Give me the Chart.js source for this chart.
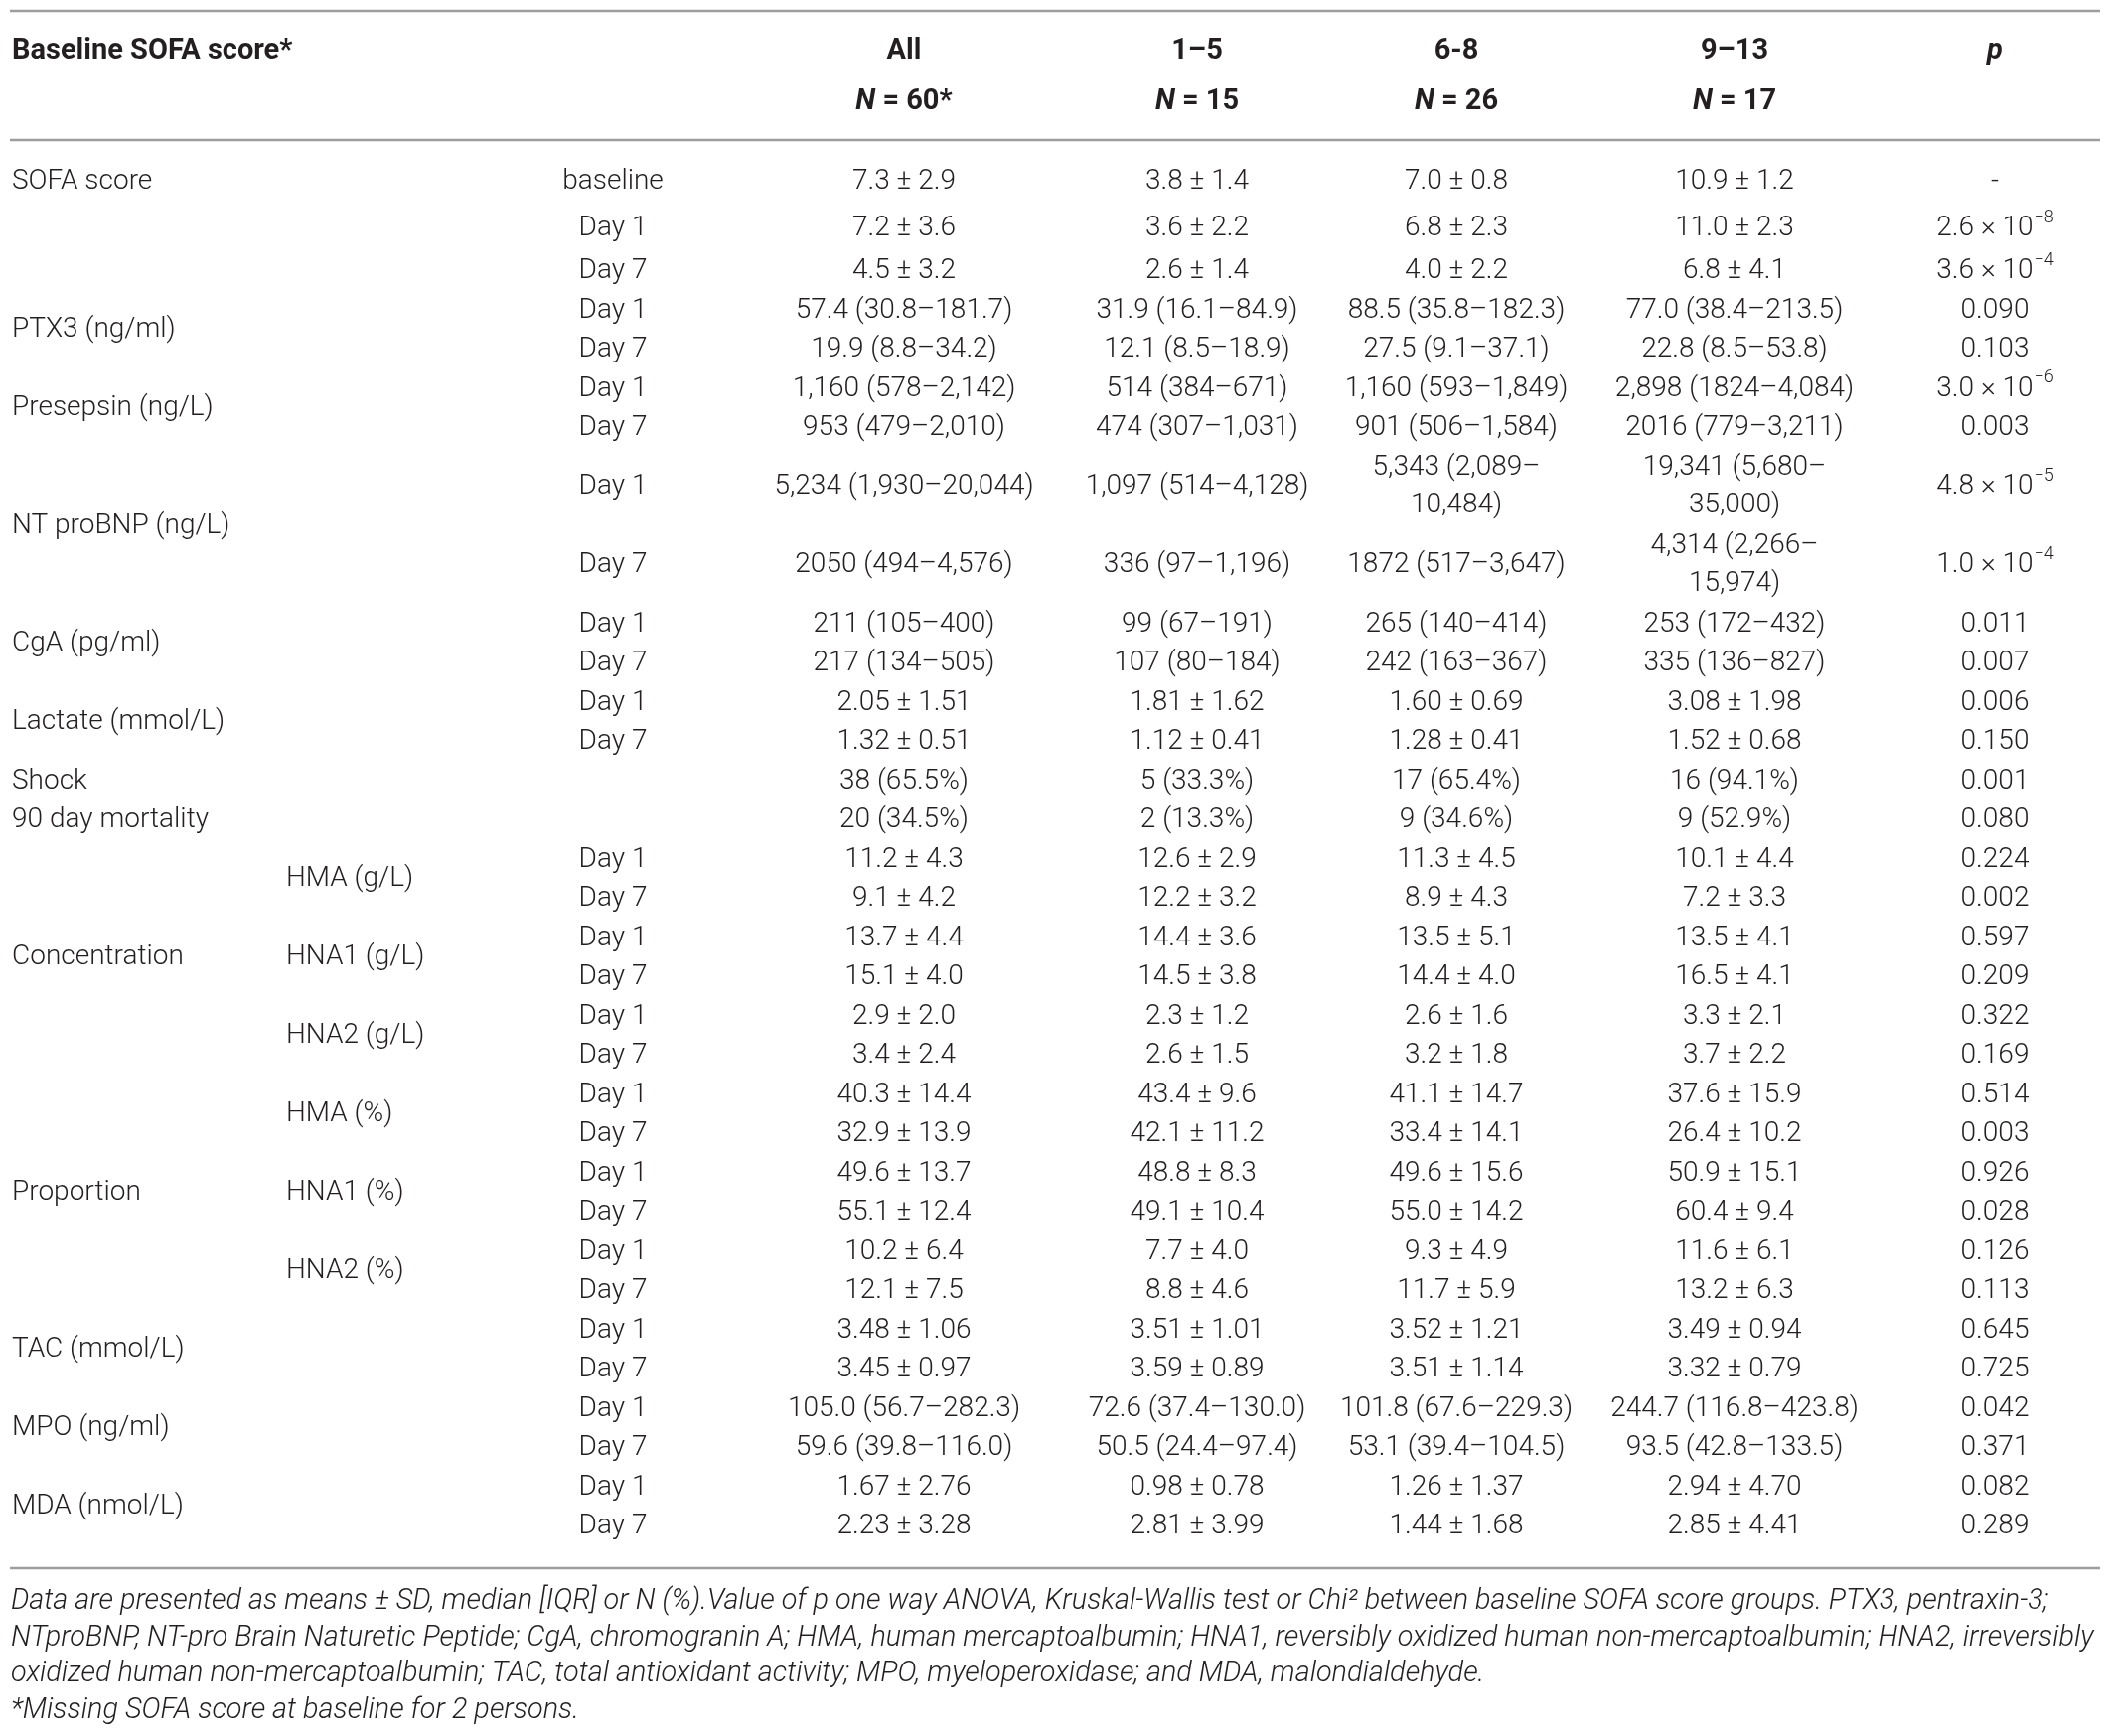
<!DOCTYPE html>
<html>
<head>
<meta charset="utf-8">
<script src="https://cdn.jsdelivr.net/npm/chart.js@4.4.1/dist/chart.umd.min.js"></script>
<style>
  html, body { margin: 0; padding: 0; background: #fff; }
  #wrap { width: 2128px; height: 1748px; }
</style>
</head>
<body>
<div id="wrap"><canvas id="table"></canvas></div>
<script>
// ---- table content ----
const headTop = ["All", "1–5", "6-8", "9–13"];
const headN = ["60*", "15", "26", "17"];

const groups = ["SOFA score", "", "PTX3 (ng/ml)", "Presepsin (ng/L)", "NT proBNP (ng/L)",
  "CgA (pg/ml)", "Lactate (mmol/L)", "Shock", "90 day mortality", "Concentration",
  "Proportion", "TAC (mmol/L)", "MPO (ng/ml)", "MDA (nmol/L)"];
const groupRows = [1, 2, 2, 2, 2, 2, 2, 1, 1, 6, 6, 2, 2, 2];

const subLabels = ["HMA (g/L)", "HNA1 (g/L)", "HNA2 (g/L)", "HMA (%)", "HNA1 (%)", "HNA2 (%)"];
const subFirstRow = 15;

const dayLabels = ["baseline", "Day 1", "Day 7", "Day 1", "Day 7", "Day 1", "Day 7",
  "Day 1", "Day 7", "Day 1", "Day 7", "Day 1", "Day 7", "", "",
  "Day 1", "Day 7", "Day 1", "Day 7", "Day 1", "Day 7", "Day 1", "Day 7",
  "Day 1", "Day 7", "Day 1", "Day 7", "Day 1", "Day 7", "Day 1", "Day 7", "Day 1", "Day 7"];

const valAll = ["7.3 ± 2.9", "7.2 ± 3.6", "4.5 ± 3.2",
  "57.4 (30.8–181.7)", "19.9 (8.8–34.2)",
  "1,160 (578–2,142)", "953 (479–2,010)",
  "5,234 (1,930–20,044)", "2050 (494–4,576)",
  "211 (105–400)", "217 (134–505)",
  "2.05 ± 1.51", "1.32 ± 0.51",
  "38 (65.5%)", "20 (34.5%)",
  "11.2 ± 4.3", "9.1 ± 4.2", "13.7 ± 4.4", "15.1 ± 4.0", "2.9 ± 2.0", "3.4 ± 2.4",
  "40.3 ± 14.4", "32.9 ± 13.9", "49.6 ± 13.7", "55.1 ± 12.4", "10.2 ± 6.4", "12.1 ± 7.5",
  "3.48 ± 1.06", "3.45 ± 0.97",
  "105.0 (56.7–282.3)", "59.6 (39.8–116.0)",
  "1.67 ± 2.76", "2.23 ± 3.28"];

const val1to5 = ["3.8 ± 1.4", "3.6 ± 2.2", "2.6 ± 1.4",
  "31.9 (16.1–84.9)", "12.1 (8.5–18.9)",
  "514 (384–671)", "474 (307–1,031)",
  "1,097 (514–4,128)", "336 (97–1,196)",
  "99 (67–191)", "107 (80–184)",
  "1.81 ± 1.62", "1.12 ± 0.41",
  "5 (33.3%)", "2 (13.3%)",
  "12.6 ± 2.9", "12.2 ± 3.2", "14.4 ± 3.6", "14.5 ± 3.8", "2.3 ± 1.2", "2.6 ± 1.5",
  "43.4 ± 9.6", "42.1 ± 11.2", "48.8 ± 8.3", "49.1 ± 10.4", "7.7 ± 4.0", "8.8 ± 4.6",
  "3.51 ± 1.01", "3.59 ± 0.89",
  "72.6 (37.4–130.0)", "50.5 (24.4–97.4)",
  "0.98 ± 0.78", "2.81 ± 3.99"];

const val6to8 = ["7.0 ± 0.8", "6.8 ± 2.3", "4.0 ± 2.2",
  "88.5 (35.8–182.3)", "27.5 (9.1–37.1)",
  "1,160 (593–1,849)", "901 (506–1,584)",
  "5,343 (2,089–\n10,484)", "1872 (517–3,647)",
  "265 (140–414)", "242 (163–367)",
  "1.60 ± 0.69", "1.28 ± 0.41",
  "17 (65.4%)", "9 (34.6%)",
  "11.3 ± 4.5", "8.9 ± 4.3", "13.5 ± 5.1", "14.4 ± 4.0", "2.6 ± 1.6", "3.2 ± 1.8",
  "41.1 ± 14.7", "33.4 ± 14.1", "49.6 ± 15.6", "55.0 ± 14.2", "9.3 ± 4.9", "11.7 ± 5.9",
  "3.52 ± 1.21", "3.51 ± 1.14",
  "101.8 (67.6–229.3)", "53.1 (39.4–104.5)",
  "1.26 ± 1.37", "1.44 ± 1.68"];

const val9to13 = ["10.9 ± 1.2", "11.0 ± 2.3", "6.8 ± 4.1",
  "77.0 (38.4–213.5)", "22.8 (8.5–53.8)",
  "2,898 (1824–4,084)", "2016 (779–3,211)",
  "19,341 (5,680–\n35,000)", "4,314 (2,266–\n15,974)",
  "253 (172–432)", "335 (136–827)",
  "3.08 ± 1.98", "1.52 ± 0.68",
  "16 (94.1%)", "9 (52.9%)",
  "10.1 ± 4.4", "7.2 ± 3.3", "13.5 ± 4.1", "16.5 ± 4.1", "3.3 ± 2.1", "3.7 ± 2.2",
  "37.6 ± 15.9", "26.4 ± 10.2", "50.9 ± 15.1", "60.4 ± 9.4", "11.6 ± 6.1", "13.2 ± 6.3",
  "3.49 ± 0.94", "3.32 ± 0.79",
  "244.7 (116.8–423.8)", "93.5 (42.8–133.5)",
  "2.94 ± 4.70", "2.85 ± 4.41"];

const pValues = ["-", "2.6 × 10^−8", "3.6 × 10^−4",
  "0.090", "0.103", "3.0 × 10^−6", "0.003", "4.8 × 10^−5", "1.0 × 10^−4",
  "0.011", "0.007", "0.006", "0.150", "0.001", "0.080",
  "0.224", "0.002", "0.597", "0.209", "0.322", "0.169",
  "0.514", "0.003", "0.926", "0.028", "0.126", "0.113",
  "0.645", "0.725", "0.042", "0.371", "0.082", "0.289"];

const footnotes = [
  "Data are presented as means ± SD, median [IQR] or N (%).Value of p one way ANOVA, Kruskal-Wallis test or Chi² between baseline SOFA score groups. PTX3, pentraxin-3;",
  "NTproBNP, NT-pro Brain Naturetic Peptide; CgA, chromogranin A; HMA, human mercaptoalbumin; HNA1, reversibly oxidized human non-mercaptoalbumin; HNA2, irreversibly",
  "oxidized human non-mercaptoalbumin; TAC, total antioxidant activity; MPO, myeloperoxidase; and MDA, malondialdehyde.",
  "*Missing SOFA score at baseline for 2 persons."
];

// ---- layout (scale units = px of the page) ----
const FAMILY = '"Roboto", "Liberation Sans", sans-serif';
const BODY = `300 28px ${FAMILY}`;
const SUP = `300 18px ${FAMILY}`;
const colX = { group: 12, sub: 288, day: 617, all: 910, g1: 1205, g2: 1466, g3: 1746, p: 2008 };
const ruleY = [11, 141, 1579];
const ruleX = [10, 2114];
const headY = [52, 103];
const PITCH = 39.5;
const LINE_GAP = 38;
const firstRowY = 183;
const extraGap = [0, 7.5, 3.5];

const valueCols = [valAll, val1to5, val6to8, val9to13];
const lineCount = dayLabels.map((_, i) =>
  Math.max(...valueCols.map(c => c[i].split("\n").length)));

const rowY = [];
lineCount.forEach((n, i) => {
  if (i === 0) { rowY.push(firstRowY); return; }
  const prev = lineCount[i - 1] * PITCH;
  rowY.push(rowY[i - 1] + (prev + n * PITCH) / 2 + (extraGap[i] || 0));
});

const groupY = [];
let r = 0;
groupRows.forEach(n => {
  groupY.push((rowY[r] + rowY[r + n - 1]) / 2);
  r += n;
});
const subY = subLabels.map((_, i) => (rowY[subFirstRow + 2 * i] + rowY[subFirstRow + 2 * i + 1]) / 2);

function column(texts, x, ys, align) {
  return {
    texts: texts,
    align: align,
    data: texts.map((_, i) => ({ x: x, y: ys[i] })),
    pointRadius: 0,
    showLine: false
  };
}

const datasets = [
  column(groups, colX.group, groupY, "left"),
  column(subLabels, colX.sub, subY, "left"),
  column(dayLabels, colX.day, rowY, "center"),
  column(valAll, colX.all, rowY, "center"),
  column(val1to5, colX.g1, rowY, "center"),
  column(val6to8, colX.g2, rowY, "center"),
  column(val9to13, colX.g3, rowY, "center"),
  column(pValues, colX.p, rowY, "center")
];

// draws "base^sup" with a raised small part
function drawRich(ctx, text, x, y, align) {
  const parts = text.split("^");
  ctx.font = BODY;
  const wBase = ctx.measureText(parts[0]).width;
  let wSup = 0;
  if (parts[1]) {
    ctx.font = SUP;
    wSup = ctx.measureText(parts[1]).width;
  }
  let x0 = x;
  if (align === "center") x0 = x - (wBase + wSup) / 2;
  ctx.textAlign = "left";
  ctx.font = BODY;
  ctx.fillText(parts[0], x0, y);
  if (parts[1]) {
    ctx.font = SUP;
    ctx.fillText(parts[1], x0 + wBase + 1, y - 11);
  }
}

const tablePlugin = {
  id: "tableText",
  afterDatasetsDraw(chart) {
    const ctx = chart.ctx;
    const sx = chart.scales.x, sy = chart.scales.y;
    ctx.save();

    // horizontal rules
    ctx.strokeStyle = "#9d9d9d";
    ctx.lineWidth = 2.5;
    ruleY.forEach(v => {
      ctx.beginPath();
      ctx.moveTo(sx.getPixelForValue(ruleX[0]), sy.getPixelForValue(v));
      ctx.lineTo(sx.getPixelForValue(ruleX[1]), sy.getPixelForValue(v));
      ctx.stroke();
    });

    ctx.fillStyle = "#231f20";
    ctx.textBaseline = "middle";

    // header
    const bold = `bold 29px ${FAMILY}`;
    const boldIt = `italic bold 29px ${FAMILY}`;
    const y1 = sy.getPixelForValue(headY[0]), y2 = sy.getPixelForValue(headY[1]);
    ctx.font = bold;
    ctx.textAlign = "left";
    ctx.fillText("Baseline SOFA score*", sx.getPixelForValue(colX.group), y1);
    const hx = [colX.all, colX.g1, colX.g2, colX.g3];
    ctx.textAlign = "center";
    headTop.forEach((t, i) => ctx.fillText(t, sx.getPixelForValue(hx[i]), y1));
    ctx.font = boldIt;
    ctx.fillText("p", sx.getPixelForValue(colX.p), y1);
    headN.forEach((n, i) => {
      ctx.font = boldIt;
      const wN = ctx.measureText("N").width;
      ctx.font = bold;
      const rest = " = " + n;
      const wR = ctx.measureText(rest).width;
      const x0 = sx.getPixelForValue(hx[i]) - (wN + wR) / 2;
      ctx.textAlign = "left";
      ctx.font = boldIt;
      ctx.fillText("N", x0, y2);
      ctx.font = bold;
      ctx.fillText(rest, x0 + wN, y2);
    });

    // body cells, placed at the scatter points
    chart.data.datasets.forEach((ds, di) => {
      const meta = chart.getDatasetMeta(di);
      meta.data.forEach((pt, i) => {
        const text = ds.texts[i];
        if (!text) return;
        const lines = text.split("\n");
        lines.forEach((ln, k) => {
          const dy = (k - (lines.length - 1) / 2) * LINE_GAP;
          drawRich(ctx, ln, pt.x, pt.y + dy, ds.align);
        });
      });
    });

    // footnotes
    ctx.font = `italic 300 24px ${FAMILY}`;
    const fit = 2052 / ctx.measureText(footnotes[0]).width;
    const fsize = (24 * fit).toFixed(2);
    ctx.font = `italic 300 ${fsize}px ${FAMILY}`;
    ctx.textAlign = "left";
    footnotes.forEach((t, i) => {
      ctx.fillText(t, sx.getPixelForValue(11), sy.getPixelForValue(1613 + i * 36.5));
    });
    ctx.restore();
  }
};

new Chart(document.getElementById("table"), {
  type: "scatter",
  data: { datasets: datasets },
  options: {
    responsive: true,
    maintainAspectRatio: false,
    animation: false,
    events: [],
    layout: { padding: 0 },
    scales: {
      x: { type: "linear", min: 0, max: 2128, display: false },
      y: { type: "linear", min: 0, max: 1748, reverse: true, display: false }
    },
    plugins: { legend: { display: false }, tooltip: { enabled: false } }
  },
  plugins: [tablePlugin]
});
</script>
</body>
</html>
